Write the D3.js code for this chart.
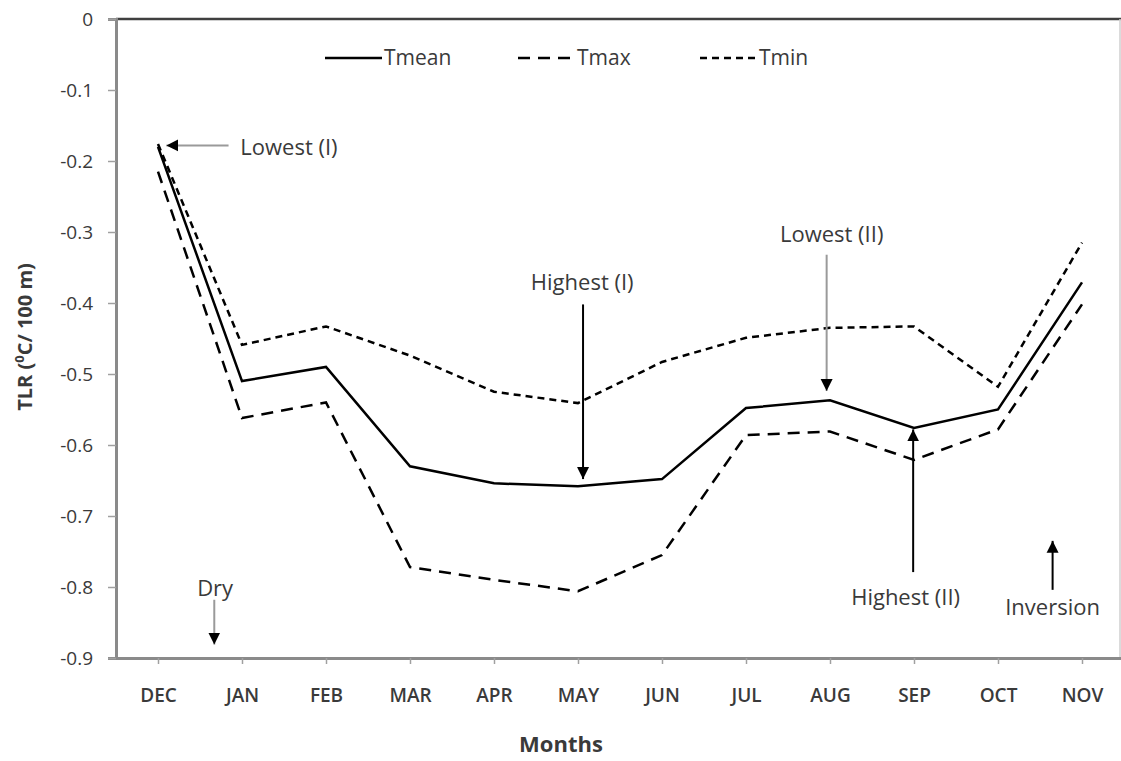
<!DOCTYPE html>
<html>
<head>
<meta charset="utf-8">
<script src="https://cdn.jsdelivr.net/npm/d3@7"></script>
<style>
  body { margin: 0; background: #fff; }
  svg { display: block; font-family: 'Open Sans', sans-serif; }
</style>
</head>
<body>
<svg width="1121" height="761"></svg>
<script>
// chart data
const months = ['DEC', 'JAN', 'FEB', 'MAR', 'APR', 'MAY', 'JUN', 'JUL', 'AUG', 'SEP', 'OCT', 'NOV']
const tmean = [-0.18, -0.51, -0.49, -0.63, -0.654, -0.658, -0.648, -0.548, -0.537, -0.576, -0.55, -0.371]
const tmax = [-0.215, -0.562, -0.54, -0.772, -0.79, -0.806, -0.755, -0.586, -0.581, -0.621, -0.578, -0.402]
const tmin = [-0.176, -0.459, -0.433, -0.474, -0.525, -0.541, -0.483, -0.449, -0.435, -0.433, -0.518, -0.315]
const yTicks = [0, -0.1, -0.2, -0.3, -0.4, -0.5, -0.6, -0.7, -0.8, -0.9]

// annotations in data space (x = month index, y = TLR value)
const notes = [
    { text: 'Lowest (I)', tx: 0.98, ty: -0.18, anchor: 'start', x1: 0.84, y1: -0.178, x2: 0.1, y2: -0.178, grey: true },
    { text: 'Highest (I)', tx: 5.05, ty: -0.382, anchor: 'middle', x1: 5.06, y1: -0.402, x2: 5.06, y2: -0.648, grey: false },
    { text: 'Lowest (II)', tx: 8.02, ty: -0.314, anchor: 'middle', x1: 7.96, y1: -0.332, x2: 7.96, y2: -0.524, grey: true },
    { text: 'Highest (II)', tx: 8.9, ty: -0.826, anchor: 'middle', x1: 8.99, y1: -0.779, x2: 8.99, y2: -0.578, grey: false },
    { text: 'Inversion', tx: 10.65, ty: -0.84, anchor: 'middle', x1: 10.65, y1: -0.804, x2: 10.65, y2: -0.735, grey: false },
    { text: 'Dry', tx: 0.68, ty: -0.813, anchor: 'middle', x1: 0.67, y1: -0.818, x2: 0.67, y2: -0.881, grey: true },
]

const series = [
    { name: 'Tmean', values: tmean, dash: null },
    { name: 'Tmax', values: tmax, dash: '12,8' },
    { name: 'Tmin', values: tmin, dash: '7,5' },
]

const plotLeft = 116
const plotRight = 1124
const plotTop = 19
const plotBottom = 658
const textColor = '#3a3a3a'
const axisColor = '#8a8a8a'

const svg = d3.select('svg')

const x = d3.scalePoint().domain(months).range([plotLeft, plotRight]).padding(0.5)
const xf = i => x(months[0]) + i * x.step()
const y = d3.scaleLinear().domain([-0.9, 0]).range([plotBottom, plotTop])

// arrow heads
const defs = svg.append('defs')
defs.append('marker')
    .attr('id', 'head')
    .attr('viewBox', '0 0 10 10')
    .attr('refX', 10)
    .attr('refY', 5)
    .attr('markerUnits', 'userSpaceOnUse')
    .attr('markerWidth', 12)
    .attr('markerHeight', 14)
    .attr('orient', 'auto')
    .append('path')
    .attr('d', 'M0,0 L10,5 L0,10 Z')
    .attr('fill', '#000')

// frame: top and right borders
svg.append('line')
    .attr('x1', plotLeft).attr('x2', 1121)
    .attr('y1', plotTop).attr('y2', plotTop)
    .attr('stroke', '#404040').attr('stroke-width', 2.5)
svg.append('line')
    .attr('x1', 1120).attr('x2', 1120)
    .attr('y1', plotTop).attr('y2', plotBottom)
    .attr('stroke', '#cfcfcf').attr('stroke-width', 1.5)

// y axis
const yAxis = d3.axisLeft(y)
    .tickValues(yTicks)
    .tickSize(8)
    .tickPadding(15)
    .tickFormat(d => (d === 0 ? '0' : d.toFixed(1)))
const yG = svg.append('g').attr('transform', `translate(${plotLeft},0)`).call(yAxis)

// x axis
const xAxis = d3.axisBottom(x).tickSize(6).tickSizeOuter(0).tickPadding(25)
const xG = svg.append('g').attr('transform', `translate(0,${plotBottom})`).call(xAxis)

yG.select('.domain').attr('stroke', axisColor).attr('stroke-width', 3)
xG.select('.domain').attr('stroke', axisColor).attr('stroke-width', 3)
svg.selectAll('.tick line').attr('stroke', '#a0a0a0').attr('stroke-width', 1.5)
yG.selectAll('.tick text')
    .attr('font-family', 'Open Sans, sans-serif')
    .attr('font-size', 19)
    .attr('fill', textColor)
xG.selectAll('.tick text')
    .attr('font-family', 'Open Sans, sans-serif')
    .attr('font-size', 19)
    .attr('font-weight', 600)
    .attr('fill', textColor)

// lines
const line = d3.line()
    .x((d, i) => x(months[i]))
    .y(d => y(d))

svg.append('g')
    .selectAll('path')
    .data(series)
    .join('path')
    .attr('d', d => line(d.values))
    .attr('fill', 'none')
    .attr('stroke', '#000')
    .attr('stroke-width', 2.5)
    .attr('stroke-dasharray', d => d.dash)

// legend
const legendX = [325, 518, 700]
const legend = svg.append('g')
    .selectAll('g')
    .data(series)
    .join('g')
    .attr('transform', (d, i) => `translate(${legendX[i]},58)`)
legend.append('line')
    .attr('x1', 0).attr('x2', 57)
    .attr('stroke', '#000')
    .attr('stroke-width', 2.5)
    .attr('stroke-dasharray', d => d.dash)
legend.append('text')
    .attr('x', 59)
    .attr('dy', '0.35em')
    .attr('font-size', 21)
    .attr('fill', textColor)
    .text(d => d.name)

// annotations
const ann = svg.append('g')
ann.selectAll('line')
    .data(notes)
    .join('line')
    .attr('x1', d => xf(d.x1))
    .attr('y1', d => y(d.y1))
    .attr('x2', d => xf(d.x2))
    .attr('y2', d => y(d.y2))
    .attr('stroke', d => (d.grey ? '#9a9a9a' : '#000'))
    .attr('stroke-width', 2)
    .attr('marker-end', 'url(#head)')
ann.selectAll('text')
    .data(notes)
    .join('text')
    .attr('x', d => xf(d.tx))
    .attr('y', d => y(d.ty))
    .attr('text-anchor', d => d.anchor)
    .attr('dy', d => (d.anchor === 'start' ? '0.35em' : 0))
    .attr('font-size', 22)
    .attr('fill', textColor)
    .text(d => d.text)

// axis titles
svg.append('text')
    .attr('x', 561)
    .attr('y', 752)
    .attr('text-anchor', 'middle')
    .attr('font-size', 22)
    .attr('font-weight', 700)
    .attr('fill', textColor)
    .text('Months')

const yTitle = svg.append('text')
    .attr('transform', 'translate(32,337) rotate(-90)')
    .attr('text-anchor', 'middle')
    .attr('font-size', 20)
    .attr('font-weight', 700)
    .attr('fill', textColor)
yTitle.append('tspan').text('TLR (')
yTitle.append('tspan').attr('font-size', 13).attr('dy', -8).text('0')
yTitle.append('tspan').attr('dy', 8).text('C/ 100 m)')
</script>
</body>
</html>
